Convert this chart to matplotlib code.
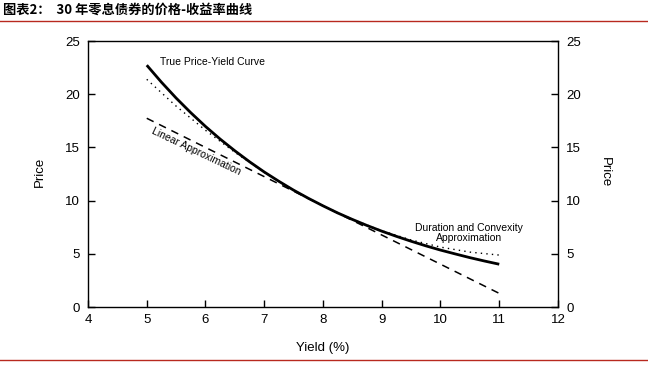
import matplotlib.pyplot as plt
import numpy as np

plt.rcParams['font.family'] = ['Liberation Sans', 'DejaVu Sans']

# yield (%) and prices
yields = [5.0, 5.25, 5.5, 5.75, 6.0, 6.25, 6.5, 6.75, 7.0, 7.25, 7.5, 7.75, 8.0,
          8.25, 8.5, 8.75, 9.0, 9.25, 9.5, 9.75, 10.0, 10.25, 10.5, 10.75, 11.0]
true_price = [22.73, 21.13, 19.64, 18.26, 16.97, 15.78, 14.68, 13.65, 12.69, 11.81,
              10.98, 10.22, 9.51, 8.84, 8.23, 7.66, 7.13, 6.64, 6.18, 5.75, 5.35,
              4.99, 4.64, 4.32, 4.02]

lin_yield = [5.0, 11.0]
lin_price = [17.74, 1.28]

conv_yield = [5.0, 5.5, 6.0, 6.5, 7.0, 7.5, 8.0, 8.5, 9.0, 9.5, 10.0, 10.5, 11.0]
conv_price = [21.4, 18.88, 16.61, 14.54, 12.65, 10.98, 9.51, 8.24, 7.17, 6.30, 5.63, 5.16, 4.88]

xticks = [4, 5, 6, 7, 8, 9, 10, 11, 12]
yticks = [0, 5, 10, 15, 20, 25]

fig = plt.figure(figsize=(6.48, 3.76), dpi=100)
ax = fig.add_axes([0.1358, 0.1835, 0.7253, 0.7074])

ax.plot(conv_yield, conv_price, color='black', lw=1.0, linestyle=(0, (1, 3)))
ax.plot(lin_yield, lin_price, color='black', lw=1.1, linestyle=(0, (5, 4)))
ax.plot(yields, true_price, color='black', lw=2.0, solid_capstyle='butt')

ax.set_xlim(4, 12)
ax.set_ylim(0, 25)
ax.set_xticks(xticks)
ax.set_yticks(yticks)
ax.tick_params(direction='in', length=5, width=1.0, labelsize=9.5, colors='black')
ax.tick_params(axis='y', which='both', left=True, right=True,
               labelleft=True, labelright=True, pad=6)
ax.tick_params(axis='x', pad=5)
for s in ax.spines.values():
    s.set_linewidth(1.0)

# axis titles
fig.text(40 / 648, 1 - 172 / 376, 'Price', fontsize=9.5, rotation=90,
         ha='center', va='center')
fig.text(605 / 648, 1 - 172 / 376, 'Price', fontsize=9.5, rotation=-90,
         ha='center', va='center')
fig.text(323 / 648, 1 - 348 / 376, 'Yield (%)', fontsize=9.5, ha='center', va='center')

ax.text(5.23, 23.0, 'True Price-Yield Curve', fontsize=7.5, va='center', ha='left')
ax.text(5.84, 14.65, 'Linear Approximation', fontsize=7.5, va='center', ha='center',
        rotation=-25.5, rotation_mode='anchor')
ax.text(10.49, 6.95, 'Duration and Convexity\nApproximation', fontsize=7.5,
        va='center', ha='center', linespacing=1.1)

fig.text(3 / 648, 1 - 10 / 376, '图表2：  30 年零息债券的价格-收益率曲线', fontsize=9.5,
         fontweight='bold', ha='left', va='center',
         family=['Noto Sans CJK SC', 'DejaVu Sans'])
fig.add_artist(plt.Line2D([0, 1], [1 - 21 / 376, 1 - 21 / 376], color='#b8291f', lw=1.0))
fig.add_artist(plt.Line2D([0, 1], [1 - 360 / 376, 1 - 360 / 376], color='#b8291f', lw=1.0))

fig.savefig('out.png', dpi=100)
